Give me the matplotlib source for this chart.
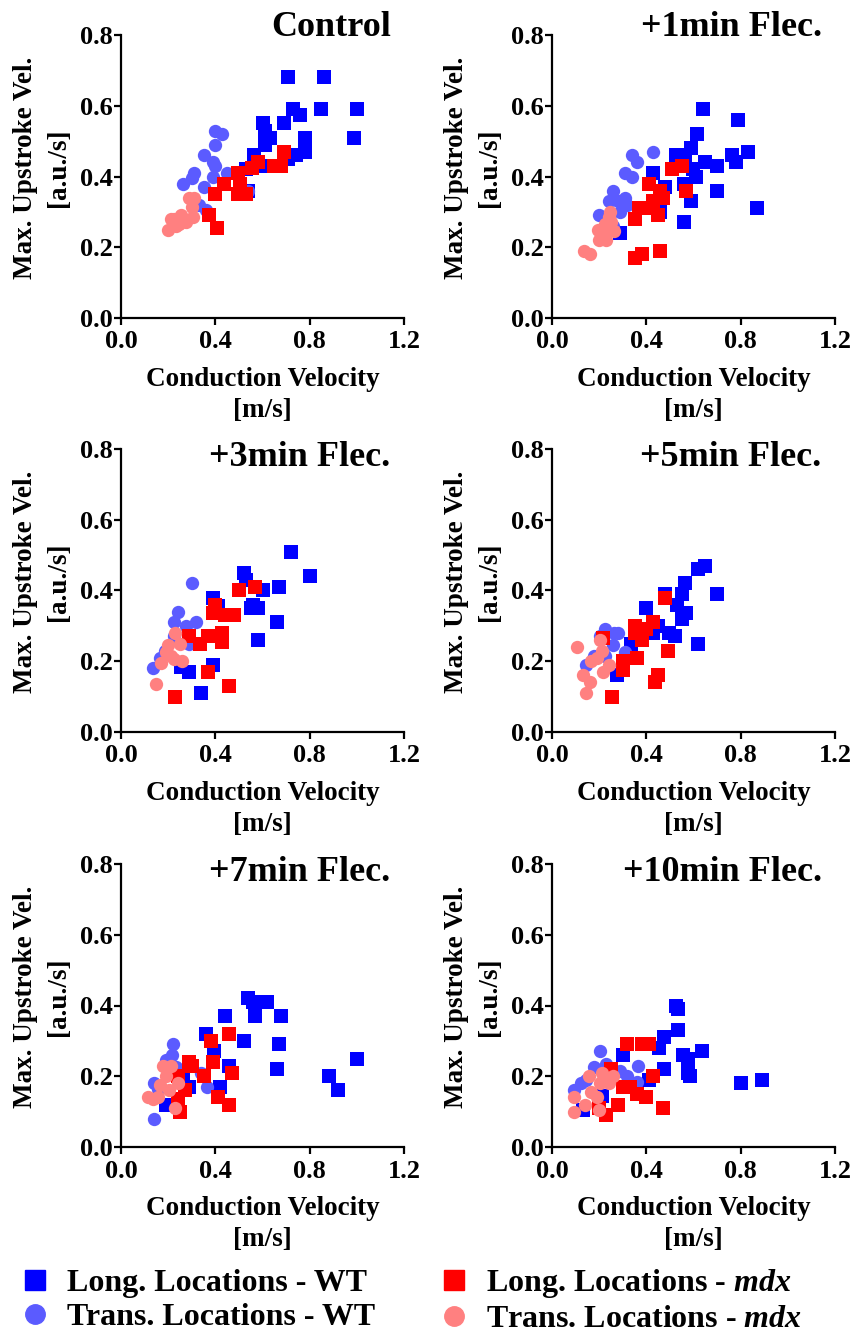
import numpy as np
import matplotlib
matplotlib.use('Agg')
import matplotlib.pyplot as plt
from matplotlib.lines import Line2D

plt.rcParams['font.family'] = ['Liberation Serif', 'DejaVu Serif']
plt.rcParams['font.weight'] = 'bold'
plt.rcParams['mathtext.fontset'] = 'custom'
plt.rcParams['mathtext.it'] = 'Liberation Serif:italic:bold'
plt.rcParams['mathtext.rm'] = 'Liberation Serif:bold'

# colours of the four groups
c_long_wt = '#0000ff'
c_trans_wt = '#5b5bff'
c_long_mdx = '#ff0000'
c_trans_mdx = '#ff8080'

titles = ['Control', '+1min Flec.', '+3min Flec.', '+5min Flec.', '+7min Flec.', '+10min Flec.']

# ---- Control ----
ctrl_long_wt = [(0.71, 0.68), (0.86, 0.68), (0.73, 0.59), (0.76, 0.575), (0.85, 0.59), (1.0, 0.59),
                (0.99, 0.51), (0.69, 0.55), (0.60, 0.55), (0.61, 0.53), (0.63, 0.51), (0.61, 0.49),
                (0.78, 0.51), (0.78, 0.49), (0.78, 0.47), (0.74, 0.46), (0.71, 0.45), (0.565, 0.46),
                (0.59, 0.43), (0.53, 0.42), (0.54, 0.36)]
ctrl_trans_wt = [(0.40, 0.53), (0.43, 0.52), (0.40, 0.49), (0.35, 0.46), (0.39, 0.44), (0.40, 0.43),
                 (0.39, 0.40), (0.31, 0.41), (0.30, 0.395), (0.265, 0.38), (0.35, 0.37), (0.45, 0.41),
                 (0.36, 0.305), (0.33, 0.32), (0.54, 0.36)]
ctrl_long_mdx = [(0.375, 0.29), (0.405, 0.255), (0.40, 0.35), (0.435, 0.38), (0.495, 0.41), (0.505, 0.38),
                 (0.495, 0.35), (0.53, 0.35), (0.555, 0.425), (0.58, 0.44), (0.65, 0.43), (0.68, 0.43),
                 (0.69, 0.47)]
ctrl_trans_mdx = [(0.20, 0.25), (0.21, 0.28), (0.235, 0.26), (0.255, 0.29), (0.275, 0.27), (0.29, 0.34),
                  (0.31, 0.34), (0.30, 0.315), (0.305, 0.285), (0.245, 0.265), (0.225, 0.28)]

# ---- +1min ----
m1_long_wt = [(0.64, 0.59), (0.79, 0.56), (0.615, 0.52), (0.59, 0.48), (0.525, 0.46), (0.565, 0.46),
              (0.65, 0.44), (0.70, 0.43), (0.765, 0.46), (0.78, 0.44), (0.83, 0.47), (0.60, 0.42),
              (0.61, 0.40), (0.56, 0.38), (0.43, 0.41), (0.48, 0.37), (0.70, 0.36), (0.59, 0.33),
              (0.56, 0.27), (0.46, 0.30), (0.87, 0.31), (0.29, 0.24)]
m1_trans_wt = [(0.43, 0.47), (0.34, 0.46), (0.36, 0.44), (0.31, 0.41), (0.34, 0.40), (0.26, 0.36),
               (0.24, 0.33), (0.28, 0.33), (0.31, 0.34), (0.32, 0.32), (0.20, 0.29), (0.29, 0.30),
               (0.26, 0.26)]
m1_long_mdx = [(0.51, 0.42), (0.55, 0.43), (0.41, 0.38), (0.46, 0.36), (0.47, 0.34), (0.43, 0.33),
               (0.57, 0.36), (0.37, 0.31), (0.395, 0.31), (0.35, 0.28), (0.45, 0.29), (0.35, 0.17),
               (0.38, 0.18), (0.46, 0.19)]
m1_trans_mdx = [(0.135, 0.19), (0.16, 0.18), (0.245, 0.30), (0.195, 0.25), (0.225, 0.265), (0.25, 0.27),
                (0.265, 0.245), (0.20, 0.22), (0.23, 0.22), (0.24, 0.285), (0.215, 0.24)]

# ---- +3min ----
m3_long_wt = [(0.72, 0.51), (0.80, 0.44), (0.52, 0.45), (0.53, 0.43), (0.60, 0.40), (0.67, 0.41),
              (0.56, 0.36), (0.58, 0.35), (0.55, 0.35), (0.39, 0.38), (0.41, 0.355), (0.66, 0.31),
              (0.58, 0.26), (0.39, 0.19), (0.29, 0.17), (0.34, 0.11), (0.255, 0.185)]
m3_trans_wt = [(0.30, 0.42), (0.24, 0.34), (0.225, 0.31), (0.32, 0.31), (0.275, 0.30), (0.29, 0.25),
               (0.185, 0.23), (0.165, 0.21), (0.135, 0.18), (0.225, 0.27)]
m3_long_mdx = [(0.50, 0.40), (0.57, 0.41), (0.40, 0.36), (0.39, 0.335), (0.44, 0.33), (0.48, 0.33),
               (0.29, 0.27), (0.37, 0.27), (0.335, 0.25), (0.43, 0.28), (0.43, 0.255), (0.37, 0.17),
               (0.46, 0.13), (0.23, 0.10)]
m3_trans_mdx = [(0.23, 0.28), (0.25, 0.25), (0.19, 0.225), (0.21, 0.215), (0.26, 0.20), (0.17, 0.195),
                (0.15, 0.135), (0.20, 0.245), (0.225, 0.205)]

# ---- +5min ----
m5_long_wt = [(0.65, 0.47), (0.62, 0.46), (0.565, 0.42), (0.55, 0.39), (0.53, 0.36), (0.57, 0.335),
              (0.55, 0.32), (0.70, 0.39), (0.48, 0.39), (0.40, 0.35), (0.45, 0.30), (0.43, 0.28),
              (0.495, 0.28), (0.52, 0.27), (0.62, 0.25), (0.335, 0.25), (0.275, 0.16)]
m5_trans_wt = [(0.225, 0.29), (0.265, 0.28), (0.28, 0.28), (0.205, 0.27), (0.26, 0.245), (0.31, 0.225),
               (0.18, 0.215), (0.145, 0.19), (0.225, 0.215)]
m5_long_mdx = [(0.48, 0.38), (0.43, 0.31), (0.35, 0.30), (0.40, 0.29), (0.35, 0.28), (0.38, 0.26),
               (0.215, 0.265), (0.49, 0.23), (0.36, 0.21), (0.30, 0.20), (0.30, 0.175), (0.45, 0.16),
               (0.435, 0.14), (0.255, 0.10)]
m5_trans_mdx = [(0.105, 0.24), (0.205, 0.26), (0.21, 0.23), (0.165, 0.20), (0.24, 0.19), (0.215, 0.17),
                (0.13, 0.16), (0.16, 0.14), (0.145, 0.11), (0.19, 0.21)]

# ---- +7min ----
m7_long_wt = [(0.54, 0.42), (0.56, 0.41), (0.62, 0.41), (0.57, 0.37), (0.68, 0.37), (0.44, 0.37),
              (0.36, 0.32), (0.52, 0.30), (0.67, 0.29), (0.395, 0.27), (0.46, 0.23), (0.66, 0.22),
              (0.88, 0.20), (0.92, 0.16), (1.0, 0.25), (0.42, 0.17), (0.29, 0.17), (0.19, 0.12),
              (0.265, 0.20)]
m7_trans_wt = [(0.22, 0.29), (0.215, 0.26), (0.19, 0.245), (0.235, 0.225), (0.34, 0.21), (0.365, 0.17),
               (0.14, 0.18), (0.155, 0.165), (0.14, 0.08)]
m7_long_mdx = [(0.46, 0.32), (0.38, 0.30), (0.39, 0.24), (0.29, 0.24), (0.30, 0.23), (0.47, 0.21),
               (0.35, 0.20), (0.24, 0.20), (0.27, 0.16), (0.24, 0.135), (0.41, 0.14), (0.46, 0.12),
               (0.25, 0.10)]
m7_trans_mdx = [(0.18, 0.23), (0.21, 0.23), (0.19, 0.20), (0.24, 0.18), (0.205, 0.16), (0.165, 0.175),
                (0.115, 0.14), (0.135, 0.135), (0.155, 0.14), (0.23, 0.11)]

# ---- +10min ----
m10_long_wt = [(0.525, 0.40), (0.535, 0.39), (0.535, 0.33), (0.475, 0.31), (0.455, 0.28), (0.635, 0.27),
               (0.555, 0.26), (0.575, 0.25), (0.475, 0.22), (0.575, 0.21), (0.585, 0.20), (0.80, 0.18),
               (0.89, 0.19), (0.30, 0.26), (0.41, 0.19), (0.21, 0.145), (0.13, 0.105)]
m10_trans_wt = [(0.205, 0.27), (0.365, 0.23), (0.18, 0.225), (0.23, 0.235), (0.29, 0.215), (0.32, 0.20),
                (0.36, 0.185), (0.095, 0.16), (0.125, 0.18), (0.145, 0.19)]
m10_long_mdx = [(0.32, 0.29), (0.38, 0.29), (0.41, 0.29), (0.25, 0.22), (0.43, 0.20), (0.30, 0.17),
                (0.33, 0.17), (0.36, 0.15), (0.40, 0.14), (0.28, 0.12), (0.20, 0.11), (0.23, 0.09),
                (0.47, 0.11)]
m10_trans_mdx = [(0.155, 0.20), (0.21, 0.21), (0.26, 0.20), (0.24, 0.18), (0.165, 0.155), (0.095, 0.14),
                 (0.14, 0.12), (0.095, 0.10), (0.20, 0.105), (0.205, 0.18), (0.19, 0.14)]

panels = [
    (ctrl_long_wt, ctrl_trans_wt, ctrl_long_mdx, ctrl_trans_mdx),
    (m1_long_wt, m1_trans_wt, m1_long_mdx, m1_trans_mdx),
    (m3_long_wt, m3_trans_wt, m3_long_mdx, m3_trans_mdx),
    (m5_long_wt, m5_trans_wt, m5_long_mdx, m5_trans_mdx),
    (m7_long_wt, m7_trans_wt, m7_long_mdx, m7_trans_mdx),
    (m10_long_wt, m10_trans_wt, m10_long_mdx, m10_trans_mdx),
]

W, H = 853, 1333
fig = plt.figure(figsize=(W / 100, H / 100), dpi=100)

lefts = [121, 552]
tops = [35, 449, 864]
aw, ah = 283, 283

for i, (lw, tw, lm, tm) in enumerate(panels):
    r, c = divmod(i, 2)
    ax = fig.add_axes([lefts[c] / W, 1 - (tops[r] + ah) / H, aw / W, ah / H])
    for pts, mk, col in [(lw, 's', c_long_wt), (tw, 'o', c_trans_wt),
                         (lm, 's', c_long_mdx), (tm, 'o', c_trans_mdx)]:
        a = np.array(pts)
        ax.scatter(a[:, 0], a[:, 1], marker=mk, s=92, color=col, linewidths=0, clip_on=False)
    ax.set_xlim(0, 1.2)
    ax.set_ylim(0, 0.8)
    ax.set_xticks([0, 0.4, 0.8, 1.2])
    ax.set_yticks([0, 0.2, 0.4, 0.6, 0.8])
    ax.xaxis.set_major_formatter(plt.FormatStrFormatter('%.1f'))
    ax.yaxis.set_major_formatter(plt.FormatStrFormatter('%.1f'))
    for s in ['top', 'right']:
        ax.spines[s].set_visible(False)
    for s in ['left', 'bottom']:
        ax.spines[s].set_linewidth(1.6)
    ax.tick_params(axis='both', width=1.6, length=5, labelsize=19, direction='out')
    ax.tick_params(axis='y', pad=1)
    ax.tick_params(axis='x', pad=4)
    ax.set_xlabel('Conduction Velocity\n[m/s]', fontsize=19.5, fontweight='bold', linespacing=1.3)
    ax.xaxis.set_label_coords(0.5, -0.173)
    ax.set_ylabel('Max. Upstroke Vel.\n[a.u./s]', fontsize=19.5, fontweight='bold', linespacing=1.45)
    ax.yaxis.set_label_coords(-0.175, 0.53)
    ty = 0.995 if r == 0 else 0.94
    ax.text(0.953, ty, titles[i], transform=ax.transAxes, ha='right', va='baseline',
            fontsize=26, fontweight='bold')

handles = [
    Line2D([], [], marker='s', linestyle='none', color=c_long_wt, markersize=14),
    Line2D([], [], marker='o', linestyle='none', color=c_trans_wt, markersize=14),
    Line2D([], [], marker='s', linestyle='none', color=c_long_mdx, markersize=14),
    Line2D([], [], marker='o', linestyle='none', color=c_trans_mdx, markersize=14),
]
labels = ['Long. Locations - WT', 'Trans. Locations - WT',
          'Long. Locations - $mdx$', 'Trans. Locations - $mdx$']
fig.legend(handles, labels, ncol=2, loc='upper left', bbox_to_anchor=(19 / W, 1 - 1267 / H),
           frameon=False, fontsize=23, handlelength=1.0, handletextpad=0.5,
           columnspacing=1.98, labelspacing=0.14, borderpad=0, borderaxespad=0)

fig.savefig('out.png', dpi=100)
